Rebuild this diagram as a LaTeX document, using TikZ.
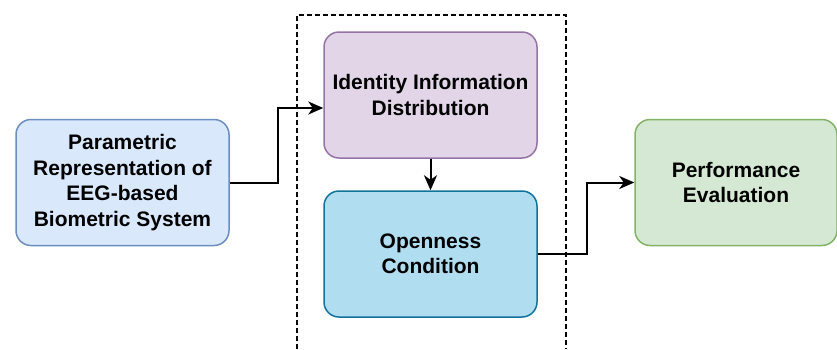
\documentclass[tikz,border=0pt]{standalone}
\usepackage{fontspec}
\setmainfont{Liberation Sans}
\usetikzlibrary{positioning,arrows.meta}

\definecolor{paramfill}{HTML}{DAE8FC}
\definecolor{paramline}{HTML}{6C8EBF}
\definecolor{iddfill}{HTML}{E1D5E7}
\definecolor{iddline}{HTML}{9673A6}
\definecolor{openfill}{HTML}{B1DDF0}
\definecolor{openline}{HTML}{10739E}
\definecolor{perffill}{HTML}{D5E8D4}
\definecolor{perfline}{HTML}{82B366}

\begin{document}
\begin{tikzpicture}[
  x=1pt, y=-1pt,
  every node/.style = {shape=rectangle, rounded corners=15pt, align=center,
    line width=1.5pt, font=\fontsize{21}{25.5}\selectfont\bfseries},
  block/.style = {minimum width=213pt, minimum height=126pt},
  flow/.style = {line width=2pt, -{Stealth[length=15pt,width=13pt,inset=4.5pt]}}
    ]
  \useasboundingbox (0,0) rectangle (837,349);
  % outer dashed frame (open at bottom)
  \draw[line width=1.6pt, dash pattern=on 5pt off 3pt] (297,349) |- (566,15) -- (566,349);

  \node[block, draw=paramline, fill=paramfill] (param) at (122.5,182.5)
    {Parametric\\Representation of\\EEG-based\\Biometric System};
  \node[block, draw=iddline, fill=iddfill] (idd) at (430.5,95)
    {Identity Information\\Distribution};
  \node[block, draw=openline, fill=openfill] (open) at (430.5,254)
    {Openness\\Condition};
  \node[block, minimum width=202pt, draw=perfline, fill=perffill] (perf) at (736,182.5)
    {Performance\\Evaluation};

  \draw[flow] (param.east) -- ++(48,0) |- ([yshift=-13pt]idd.west);
  \draw[flow] (idd.south) -- (open.north);
  \draw[flow] (open.east) -- ++(49,0) |- (perf.west);
\end{tikzpicture}
\end{document}
